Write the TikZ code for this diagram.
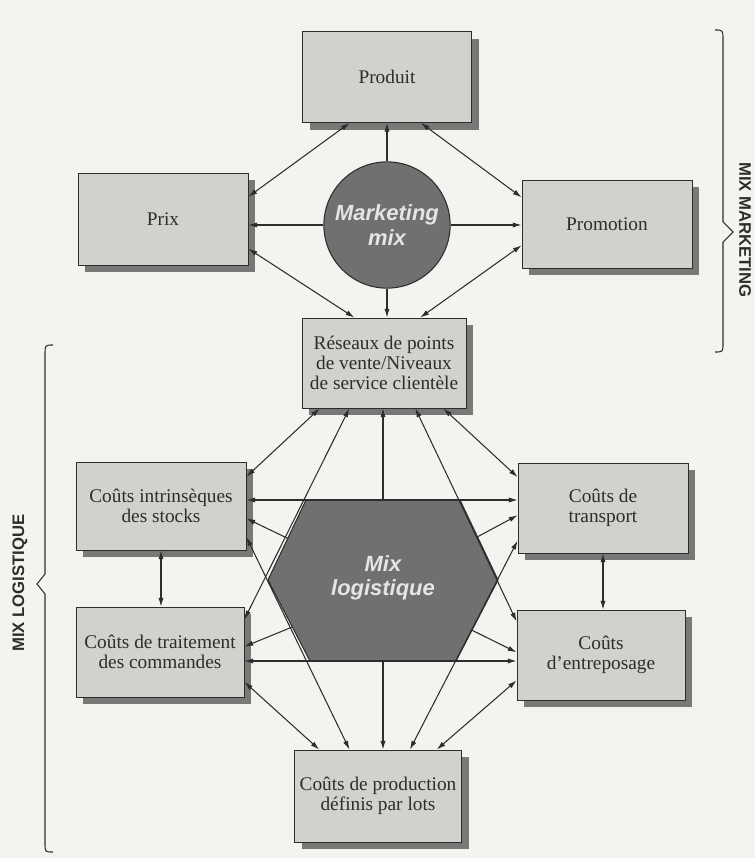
\documentclass[tikz,border=0pt]{standalone}
\usepackage{fontspec}
\setmainfont{Liberation Serif}
\setsansfont{Liberation Sans}
\usetikzlibrary{calc,shadows,arrows.meta}

\definecolor{paper}{RGB}{244,243,239}
\definecolor{boxgray}{RGB}{210,209,206}
\definecolor{boxshade}{RGB}{120,120,118}
\definecolor{mixgray}{RGB}{112,112,112}
\definecolor{inkgray}{RGB}{45,45,45}

\tikzset{
  costbox/.style={draw=inkgray,line width=0.5pt,fill=boxgray,align=center,inner sep=0pt,
    text=inkgray,font=\fontsize{11}{11.5}\selectfont,
    general shadow={fill=boxshade,shadow xshift=4pt,shadow yshift=-4pt}},
  mixlabel/.style={text=white!90!black,align=center,
    font=\sffamily\bfseries\itshape\fontsize{12.5}{14}\selectfont},
  link/.style={draw=inkgray,line width=0.6pt},
  bracelabel/.style={text=inkgray,font=\sffamily\bfseries\fontsize{9.5}{10}\selectfont}
}

\begin{document}
\begin{tikzpicture}[x=0.02cm,y=-0.02cm,>={Latex[length=5pt,width=3pt]}]
  \useasboundingbox (0,0) rectangle (755,858);
  \fill[paper] (0,0) rectangle (755,858);

  % logistics hexagon
  \coordinate (h1) at (306,500);
  \coordinate (h2) at (460,500);
  \coordinate (h3) at (498,580);
  \coordinate (h4) at (456,661);
  \coordinate (h5) at (310,661);
  \coordinate (h6) at (268,580);
  \coordinate (htop) at ($(h1)!.5!(h2)$);
  \coordinate (hbot) at ($(h5)!.5!(h4)$);
  \filldraw[fill=mixgray,draw=inkgray,line width=0.6pt] (h1) -- (h2) -- (h3) -- (h4) -- (h5) -- (h6) -- cycle;
  \node[mixlabel] (logmix) at (383,578) {Mix\\logistique};

  % marketing mix boxes
  \node[costbox,minimum width=3.38cm,minimum height=1.82cm] (produit) at (387,77) {Produit};
  \node[costbox,minimum width=3.4cm,minimum height=1.84cm] (prix) at (163,219) {Prix};
  \node[costbox,minimum width=3.4cm,minimum height=1.76cm] (promotion) at (607,224) {Promotion};
  \node[costbox,minimum width=3.28cm,minimum height=1.8cm] (reseaux) at (384,363)
    {Réseaux de points\\de vente/Niveaux\\de service clientèle};
  \node[circle,draw=inkgray,line width=0.6pt,fill=mixgray,minimum size=2.44cm,mixlabel] (mkt) at (387,225) {Marketing\\mix};

  % logistics boxes
  \node[costbox,minimum width=3.4cm,minimum height=1.76cm] (stocks) at (161,506) {Coûts intrinsèques\\des stocks};
  \node[costbox,minimum width=3.4cm,minimum height=1.8cm] (transport) at (603,508) {Coûts de\\transport};
  \node[costbox,minimum width=3.36cm,minimum height=1.8cm] (commandes) at (160,652) {Coûts de traitement\\des commandes};
  \node[costbox,minimum width=3.36cm,minimum height=1.8cm] (entrepot) at (601,655) {Coûts\\d'entreposage};
  \node[costbox,minimum width=3.34cm,minimum height=1.84cm] (production) at (378,796) {Coûts de production\\définis par lots};

  % marketing mix links
  \draw[link,->] (mkt) -- (produit);
  \draw[link,->] (mkt.west) -- (mkt.west -| prix.east);
  \draw[link,->] (mkt.east) -- (mkt.east -| promotion.west);
  \draw[link,->] (mkt.south) -- (mkt.south |- reseaux.north);
  \draw[link,<->] ($(produit.south west)!.28!(produit.south east)$) -- ($(prix.north east)!.26!(prix.south east)$);
  \draw[link,<->] ($(produit.south west)!.70!(produit.south east)$) -- ($(promotion.north west)!.2!(promotion.south west)$);
  \draw[link,<->] ($(prix.north east)!.82!(prix.south east)$) -- ($(reseaux.north west)!.32!(reseaux.north east)$);
  \draw[link,<->] ($(promotion.north west)!.74!(promotion.south west)$) -- ($(reseaux.north west)!.72!(reseaux.north east)$);

  % from the outlets box
  \draw[link,<->] ($(reseaux.south west)!.11!(reseaux.south east)$) -- ($(stocks.north east)!.17!(stocks.south east)$);
  \draw[link,<->] ($(reseaux.south west)!.29!(reseaux.south east)$) -- ($(commandes.north east)!.14!(commandes.south east)$);
  \draw[link,<->] ($(reseaux.south west)!.69!(reseaux.south east)$) -- ($(entrepot.north west)!.13!(entrepot.south west)$);
  \draw[link,<->] ($(reseaux.south west)!.86!(reseaux.south east)$) -- ($(transport.north west)!.16!(transport.south west)$);
  \draw[link,->] (htop) -- (htop |- reseaux.south);

  % across the hexagon
  \draw[link,<->] (htop -| stocks.east) -- (htop -| transport.west);
  \draw[link,<->] (hbot -| commandes.east) -- (hbot -| entrepot.west);
  \draw[link,->] ($(h1)!.48!(h6)$) -- ($(stocks.north east)!.64!(stocks.south east)$);
  \draw[link,->] ($(h2)!.46!(h3)$) -- ($(transport.north west)!.58!(transport.south west)$);
  \draw[link,->] ($(h6)!.58!(h5)$) -- ($(commandes.north east)!.44!(commandes.south east)$);
  \draw[link,->] ($(h3)!.62!(h4)$) -- ($(entrepot.north west)!.47!(entrepot.south west)$);
  \draw[link,->] (hbot) -- (hbot |- production.north);

  % to production
  \draw[link,<->] ($(commandes.north east)!.83!(commandes.south east)$) -- ($(production.north west)!.15!(production.north east)$);
  \draw[link,<->] ($(stocks.north east)!.85!(stocks.south east)$) -- ($(production.north west)!.33!(production.north east)$);
  \draw[link,<->] ($(transport.north west)!.86!(transport.south west)$) -- ($(production.north west)!.69!(production.north east)$);
  \draw[link,<->] ($(entrepot.north west)!.78!(entrepot.south west)$) -- ($(production.north west)!.85!(production.north east)$);
  \draw[link,<->] (stocks.south) -- (stocks.south |- commandes.north);
  \draw[link,<->] (transport.south) -- (transport.south |- entrepot.north);

  % braces
  \draw[inkgray,line width=0.6pt] (715,30) .. controls (723,30) .. (723,40) -- (723,222) -- (733,232) -- (723,242)
    -- (723,343) .. controls (723,352) .. (715,352);
  \node[bracelabel,rotate=-90] (mktlabel) at (745,230) {MIX MARKETING};
  \draw[inkgray,line width=0.6pt] (53,345) .. controls (45,345) .. (45,355) -- (45,574) -- (37,584) -- (45,594)
    -- (45,843) .. controls (45,852) .. (53,852);
  \node[bracelabel,rotate=90] (loglabel) at (20,583) {MIX LOGISTIQUE};
\end{tikzpicture}
\end{document}
